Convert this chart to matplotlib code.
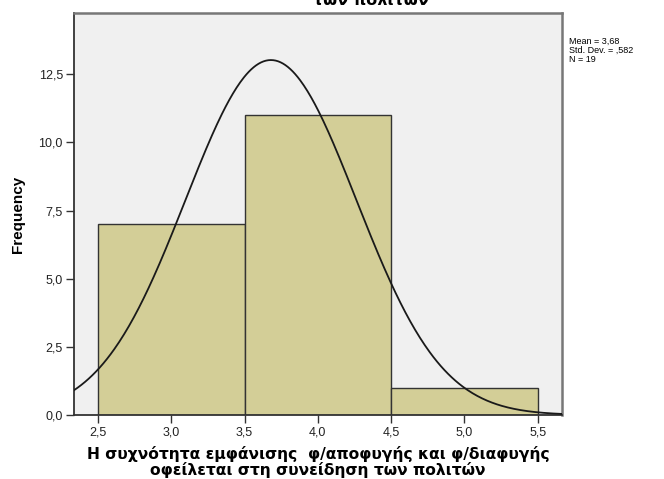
import numpy as np
import matplotlib
matplotlib.use("Agg")
import matplotlib.pyplot as plt
from matplotlib.ticker import FuncFormatter

plt.rcParams['font.family'] = ['Liberation Sans', 'DejaVu Sans']

# histogram bins (width 1) and counts
bin_left = [2.5, 3.5, 4.5]
bin_width = 1.0
counts = [7, 11, 1]

# summary statistics shown beside the plot
mean = 3.68
std = 0.582
n = 19

xticks = [2.5, 3.0, 3.5, 4.0, 4.5, 5.0, 5.5]
yticks = [0.0, 2.5, 5.0, 7.5, 10.0, 12.5]

title = 'των πολιτών'
xlabel = 'Η συχνότητα εμφάνισης  φ/αποφυγής και φ/διαφυγής\nοφείλεται στη συνείδηση των πολιτών'

fig = plt.figure(figsize=(6.64, 4.79), dpi=100)
ax = fig.add_axes([74 / 664, 1 - 415 / 479, 487.7 / 664, 402 / 479])
ax.set_facecolor('#F0F0F0')

ax.bar(bin_left, counts, width=bin_width, align='edge',
       color='#D3CE97', edgecolor='#333333', linewidth=1.0, zorder=2)

xlim = (2.337, 5.663)
xs = np.linspace(xlim[0], xlim[1], 400)
ys = n * bin_width * np.exp(-0.5 * ((xs - mean) / std) ** 2) / (std * np.sqrt(2 * np.pi))
ax.plot(xs, ys, color='#1a1a1a', linewidth=1.3, zorder=3)

ax.set_xlim(*xlim)
ax.set_ylim(0, 14.75)
ax.set_xticks(xticks)
ax.set_yticks(yticks)
comma = FuncFormatter(lambda v, p: f'{v:.1f}'.replace('.', ','))
ax.xaxis.set_major_formatter(comma)
ax.yaxis.set_major_formatter(comma)
ax.tick_params(direction='out', length=6, width=1, color='#333333',
               labelsize=9, labelcolor='#222222', pad=2)

for side in ('left', 'bottom'):
    ax.spines[side].set_color('#333333')
    ax.spines[side].set_linewidth(1.3)
for side in ('top', 'right'):
    ax.spines[side].set_color('#777777')
    ax.spines[side].set_linewidth(1.8)

ax.set_ylabel('Frequency', fontsize=11, fontweight='bold')
ax.yaxis.set_label_coords(-0.100, 0.5)

bold_wide = dict(family='DejaVu Sans', fontweight='bold', fontsize=11.5)
ax.set_xlabel(xlabel, linespacing=1.07, family='DejaVu Sans',
              fontweight='bold', fontsize=11.2)
ax.xaxis.set_label_coords(0.5, -0.076)

fig.text(371 / 664, 1 - 5 / 479, title, ha='center', va='baseline', **bold_wide)

stats = f'Mean = {mean:.2f}'.replace('.', ',') + '\n' + \
        f'Std. Dev. = {std:.3f}'.replace('0.', ',') + '\n' + f'N = {n}'
fig.text(569 / 664, 1 - 37 / 479, stats, ha='left', va='top',
         fontsize=6.5, linespacing=1.0)

fig.savefig('out.png', dpi=100)
